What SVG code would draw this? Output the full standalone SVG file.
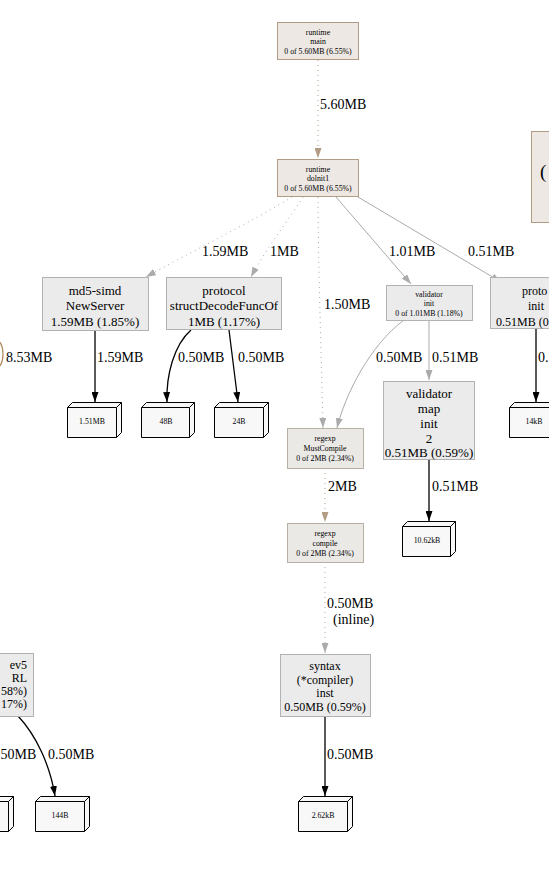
<svg xmlns="http://www.w3.org/2000/svg" width="549" height="871" viewBox="0 0 549 871" font-family="'Liberation Serif','Times New Roman',serif">
<style>
text{font-family:"Liberation Serif","Times New Roman","DejaVu Serif",serif;fill:#000}
.s{font-size:7.8px;text-anchor:middle}
.m{font-size:13px;text-anchor:middle}
.m2{font-size:12px;text-anchor:middle}
.ms{font-size:12px}
.l{font-size:14px}
.tan{fill:#ede8e3;stroke:#b29c84;stroke-width:1}
.gry{fill:#ebebeb;stroke:#b2b2b2;stroke-width:1}
.rg{fill:#ebe9e6;stroke:#b8b0a4;stroke-width:1}
.cube{fill:#f8f8f8;stroke:#000;stroke-width:1}
.e{fill:none}
.et{stroke:#b29c84;stroke-dasharray:1,4}
.eg{stroke:#ababab}
.egd{stroke:#ababab;stroke-dasharray:1,4}
.eb{stroke:#000;stroke-width:1.3}
</style>
<defs>
<marker id="at" viewBox="0 0 10 7" refX="10" refY="3.5" markerWidth="10" markerHeight="7" markerUnits="userSpaceOnUse" orient="auto"><path d="M0,0L10,3.5L0,7z" fill="#b29c84"/></marker>
<marker id="ag" viewBox="0 0 10 7" refX="10" refY="3.5" markerWidth="10" markerHeight="7" markerUnits="userSpaceOnUse" orient="auto"><path d="M0,0L10,3.5L0,7z" fill="#ababab"/></marker>
<marker id="ab" viewBox="0 0 10 7" refX="10" refY="3.5" markerWidth="10" markerHeight="7" markerUnits="userSpaceOnUse" orient="auto"><path d="M0,0L10,3.5L0,7z" fill="#000"/></marker>
</defs>
<rect width="549" height="871" fill="#fff"/>

<g id="connectors">
<path class="e et" d="M318,60L318,158" marker-end="url(#at)"/>
<text class="l" x="320" y="109">5.60MB</text>
<path class="e egd" d="M292,197C255,220 185,255 146,277" marker-end="url(#ag)"/>
<text class="l" x="202" y="256">1.59MB</text>
<path class="e egd" d="M303,197C292,215 265,250 251,277" marker-end="url(#ag)"/>
<text class="l" x="270" y="256">1MB</text>
<path class="e egd" d="M318,197C318,260 322,380 323,428" marker-end="url(#ag)"/>
<text class="l" x="324" y="309">1.50MB</text>
<path class="e eg" d="M336,197L411,284" marker-end="url(#ag)"/>
<text class="l" x="389" y="256">1.01MB</text>
<path class="e eg" d="M358,197L501,282" marker-end="url(#ag)"/>
<text class="l" x="468" y="256">0.51MB</text>
<path class="e eb" d="M95,331L95,402" marker-end="url(#ab)"/>
<text class="l" x="97" y="362">1.59MB</text>
<path class="e eb" d="M191,330C174,345 166,375 167,402" marker-end="url(#ab)"/>
<text class="l" x="178" y="362">0.50MB</text>
<path class="e eb" d="M229,330L238,402" marker-end="url(#ab)"/>
<text class="l" x="238" y="362">0.50MB</text>
<path class="e eg" d="M404,320C370,345 345,395 337,428" marker-end="url(#ag)"/>
<text class="l" x="376" y="362">0.50MB</text>
<path class="e eg" d="M429,320L429,380" marker-end="url(#ag)"/>
<text class="l" x="432" y="362">0.51MB</text>
<path class="e eb" d="M536,328L536,402" marker-end="url(#ab)"/>
<text class="l" x="538" y="362">0.</text>
<path class="e" stroke="#b2875c" stroke-width="1.2" d="M0,342C4,348 4,360 0,366"/>
<text class="l" x="6" y="362">8.53MB</text>
<path class="e eb" d="M429,459L429,521" marker-end="url(#ab)"/>
<text class="l" x="432" y="491">0.51MB</text>
<path class="e et" d="M325,468L325,522" marker-end="url(#at)"/>
<text class="l" x="328" y="491">2MB</text>
<path class="e egd" d="M325,562L325,653" marker-end="url(#ag)"/>
<text class="l" x="327" y="608">0.50MB</text>
<text class="l" x="333" y="624">(inline)</text>
<path class="e eb" d="M325,717L325,796" marker-end="url(#ab)"/>
<text class="l" x="327" y="759">0.50MB</text>
<path class="e eb" d="M18,716C36,735 50,765 55,796" marker-end="url(#ab)"/>
<text class="l" x="48" y="759">0.50MB</text>
<text class="l" x="0.5" y="759">50MB</text>
</g>

<g id="runtime_main">
<rect class="tan" x="277.5" y="22.5" width="81" height="37"/>
<text class="s" x="318" y="35">runtime</text>
<text class="s" x="318" y="44">main</text>
<text class="s" x="318" y="54">0 of 5.60MB (6.55%)</text>
</g>
<g id="runtime_dolnit1">
<rect class="tan" x="277.5" y="159.5" width="81" height="37"/>
<text class="s" x="318" y="172">runtime</text>
<text class="s" x="318" y="181">dolnit1</text>
<text class="s" x="318" y="191">0 of 5.60MB (6.55%)</text>
</g>
<g id="right_partial">
<rect class="tan" x="531.5" y="131.5" width="60" height="91"/>
<text x="540" y="178" style="font-size:19px">(</text>
</g>
<g id="md5_newserver">
<rect class="gry" x="42.5" y="277.5" width="106" height="53"/>
<text class="m" x="95" y="295">md5-simd</text>
<text class="m" x="95" y="310">NewServer</text>
<text class="m" x="95" y="326">1.59MB (1.85%)</text>
</g>
<g id="protocol_struct">
<rect class="gry" x="166.5" y="277.5" width="115" height="52"/>
<text class="m" x="224" y="295">protocol</text>
<text class="m" x="224" y="310">structDecodeFuncOf</text>
<text class="m" x="224" y="326">1MB (1.17%)</text>
</g>
<g id="validator_init">
<rect class="gry" x="386.5" y="285.5" width="86" height="35"/>
<text class="s" x="429" y="297">validator</text>
<text class="s" x="429" y="306">init</text>
<text class="s" x="429" y="316">0 of 1.01MB (1.18%)</text>
</g>
<g id="proto_init">
<rect class="gry" x="490.5" y="277.5" width="96" height="51"/>
<text class="ms" x="522" y="295">proto</text>
<text class="ms" x="528" y="310">init</text>
<text class="ms" x="496" y="326">0.51MB (0</text>
</g>
<g id="validator_map">
<rect class="gry" x="383.5" y="381.5" width="91" height="78"/>
<text class="m" x="429" y="398">validator</text>
<text class="m" x="429" y="413">map</text>
<text class="m" x="429" y="428">init</text>
<text class="m" x="429" y="443">2</text>
<text class="m" x="429" y="457">0.51MB (0.59%)</text>
</g>
<g id="regexp_mustcompile">
<rect class="rg" x="287.5" y="428.5" width="76" height="40"/>
<text class="s" x="325" y="441">regexp</text>
<text class="s" x="325" y="451">MustCompile</text>
<text class="s" x="325" y="461">0 of 2MB (2.34%)</text>
</g>
<g id="regexp_compile">
<rect class="rg" x="287.5" y="523.5" width="76" height="39"/>
<text class="s" x="325" y="536">regexp</text>
<text class="s" x="325" y="546">compile</text>
<text class="s" x="325" y="556">0 of 2MB (2.34%)</text>
</g>
<g id="syntax_inst">
<rect class="gry" x="280.5" y="654.5" width="90" height="62"/>
<text class="m2" x="325" y="670">syntax</text>
<text class="m2" x="325" y="684">(*compiler)</text>
<text class="m2" x="325" y="697">inst</text>
<text class="m2" x="325" y="711">0.50MB (0.59%)</text>
</g>
<g id="left_node">
<rect class="gry" x="-62.5" y="653.5" width="96" height="63"/>
<text x="27" y="669" style="font-size:12px;text-anchor:end">ev5</text>
<text x="27" y="682" style="font-size:12px;text-anchor:end">RL</text>
<text x="27" y="695" style="font-size:12px;text-anchor:end">58%)</text>
<text x="27" y="708" style="font-size:12px;text-anchor:end">17%)</text>
</g>

<g id="cube_151MB">
<path class="cube" d="M67.5,407.5L72.5,402.5L121.5,402.5L121.5,432.5L116.5,437.5L67.5,437.5Z"/>
<path class="e" stroke="#000" d="M67.5,407.5L116.5,407.5L121.5,402.5M116.5,407.5L116.5,437.5"/>
<text class="s" x="92" y="424">1.51MB</text>
</g>
<g id="cube_48B">
<path class="cube" d="M141.5,407.5L146.5,402.5L194.5,402.5L194.5,432.5L189.5,437.5L141.5,437.5Z"/>
<path class="e" stroke="#000" d="M141.5,407.5L189.5,407.5L194.5,402.5M189.5,407.5L189.5,437.5"/>
<text class="s" x="166" y="424">48B</text>
</g>
<g id="cube_24B">
<path class="cube" d="M214.5,407.5L219.5,402.5L268.5,402.5L268.5,432.5L263.5,437.5L214.5,437.5Z"/>
<path class="e" stroke="#000" d="M214.5,407.5L263.5,407.5L268.5,402.5M263.5,407.5L263.5,437.5"/>
<text class="s" x="239" y="424">24B</text>
</g>
<g id="cube_14kB">
<path class="cube" d="M509.5,407.5L514.5,402.5L563.5,402.5L563.5,432.5L558.5,437.5L509.5,437.5Z"/>
<path class="e" stroke="#000" d="M509.5,407.5L558.5,407.5L563.5,402.5M558.5,407.5L558.5,437.5"/>
<text class="s" x="534" y="424">14kB</text>
</g>
<g id="cube_1062kB">
<path class="cube" d="M402.5,526.5L407.5,521.5L455.5,521.5L455.5,551.5L450.5,556.5L402.5,556.5Z"/>
<path class="e" stroke="#000" d="M402.5,526.5L450.5,526.5L455.5,521.5M450.5,526.5L450.5,556.5"/>
<text class="s" x="427" y="543">10.62kB</text>
</g>
<g id="cube_262kB">
<path class="cube" d="M298.5,801.5L303.5,796.5L352.5,796.5L352.5,826.5L347.5,831.5L298.5,831.5Z"/>
<path class="e" stroke="#000" d="M298.5,801.5L347.5,801.5L352.5,796.5M347.5,801.5L347.5,831.5"/>
<text class="s" x="323" y="818">2.62kB</text>
</g>
<g id="cube_144B">
<path class="cube" d="M35.5,801.5L40.5,796.5L89.5,796.5L89.5,826.5L84.5,831.5L35.5,831.5Z"/>
<path class="e" stroke="#000" d="M35.5,801.5L84.5,801.5L89.5,796.5M84.5,801.5L84.5,831.5"/>
<text class="s" x="60" y="818">144B</text>
</g>
<g id="cube_left">
<path class="cube" d="M-40.5,801.5L-35.5,796.5L13.5,796.5L13.5,826.5L8.5,831.5L-40.5,831.5Z"/>
<path class="e" stroke="#000" d="M-40.5,801.5L8.5,801.5L13.5,796.5M8.5,801.5L8.5,831.5"/>
</g>
</svg>
